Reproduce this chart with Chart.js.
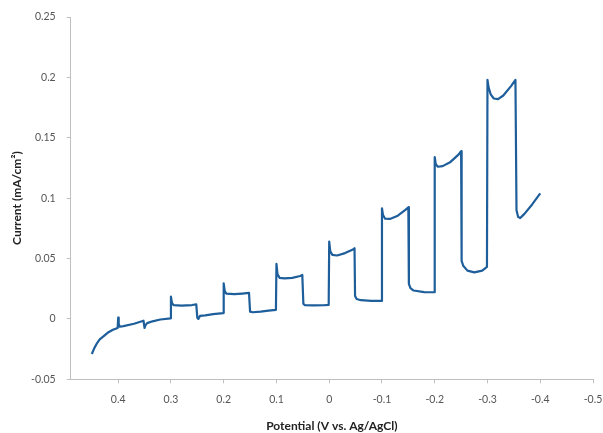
<!DOCTYPE html>
<html>
<head>
<meta charset="utf-8">
<script src="https://cdn.jsdelivr.net/npm/chart.js@4.4.1/dist/chart.umd.min.js"></script>
<style>
  html, body { margin: 0; padding: 0; background: #fff; }
  #wrap { width: 603px; height: 433px; }
</style>
</head>
<body>
<div id="wrap"><canvas id="cvChart" width="603" height="433"></canvas></div>
<script>
// potential (V vs. Ag/AgCl)
let potential = [
  0.450, 0.445, 0.440, 0.435, 0.428, 0.420, 0.410, 0.401,
  0.400, 0.399, 0.397, 0.390, 0.370, 0.352,
  0.350, 0.348, 0.345, 0.335, 0.320, 0.301,
  0.300, 0.298, 0.295, 0.280, 0.260, 0.252,
  0.250, 0.248, 0.245, 0.235, 0.220, 0.201,
  0.200, 0.198, 0.195, 0.180, 0.165, 0.152,
  0.150, 0.145, 0.130, 0.115, 0.101,
  0.100, 0.098, 0.094, 0.085, 0.070, 0.055, 0.051,
  0.049, 0.046, 0.030, 0.010, 0.001,
  0.000, -0.002, -0.006, -0.015, -0.030, -0.045, -0.048,
  -0.049, -0.052, -0.060, -0.080, -0.099,
  -0.100, -0.102, -0.106, -0.115, -0.130, -0.145, -0.150,
  -0.151, -0.154, -0.160, -0.180, -0.199,
  -0.200, -0.202, -0.206, -0.215, -0.230, -0.245, -0.250,
  -0.251, -0.254, -0.262, -0.275, -0.290, -0.299,
  -0.300, -0.302, -0.306, -0.312, -0.320, -0.330, -0.345, -0.353,
  -0.355, -0.358, -0.362, -0.370, -0.385, -0.400
]
// current (mA/cm2)
let current = [
  -0.029, -0.024, -0.020, -0.017, -0.0145, -0.0115, -0.009, -0.0075,
  0.001, -0.004, -0.0065, -0.006, -0.004, -0.0015,
  -0.0075, -0.005, -0.0035, -0.002, -0.0005, 0.0005,
  0.0185, 0.013, 0.0115, 0.011, 0.0115, 0.012,
  0.001, 0.0, 0.0025, 0.003, 0.004, 0.0048,
  0.0295, 0.023, 0.021, 0.0205, 0.021, 0.0215,
  0.006, 0.0055, 0.006, 0.0068, 0.0075,
  0.0455, 0.037, 0.034, 0.0335, 0.034, 0.0355, 0.0364,
  0.0125, 0.0115, 0.0112, 0.0113, 0.0116,
  0.064, 0.056, 0.053, 0.0525, 0.0545, 0.0575, 0.0585,
  0.019, 0.0165, 0.0155, 0.015, 0.0149,
  0.0916, 0.086, 0.083, 0.0828, 0.0855, 0.0905, 0.0925,
  0.029, 0.0255, 0.0235, 0.0222, 0.0221,
  0.134, 0.128, 0.126, 0.1265, 0.1300, 0.1360, 0.139,
  0.048, 0.044, 0.040, 0.0385, 0.040, 0.043,
  0.198, 0.192, 0.186, 0.1825, 0.182, 0.185, 0.193, 0.198,
  0.090, 0.0845, 0.0835, 0.087, 0.095, 0.104
]
let xTicks = [0.4, 0.3, 0.2, 0.1, 0, -0.1, -0.2, -0.3, -0.4, -0.5]
let xTickLabels = ['0.4', '0.3', '0.2', '0.1', '0', '-0.1', '-0.2', '-0.3', '-0.4', '-0.5']
let yTicks = [-0.05, 0, 0.05, 0.1, 0.15, 0.2, 0.25]
let yTickLabels = ['-0.05', '0', '0.05', '0.1', '0.15', '0.2', '0.25']

let points = []
for (let i = 0; i < potential.length; i++) {
  points.push({ x: potential[i], y: current[i] })
}

let tickFont = { family: 'Lato', size: 10.5 }
let titleFont = { family: 'Lato', size: 12, weight: 'bold' }
let axisGrey = '#bfbfbf'

let ctx = document.getElementById('cvChart').getContext('2d')
let cvChart = new Chart(ctx, {
  type: 'scatter',
  data: {
    datasets: [{
      label: 'chopped LSV',
      data: points,
      showLine: true,
      borderColor: '#1d5e9b',
      borderWidth: 2.2,
      borderJoinStyle: 'round',
      pointRadius: 0,
      tension: 0,
      fill: false
    }]
  },
  options: {
    responsive: false,
    animation: false,
    layout: { padding: { top: 17, right: 10, left: 0, bottom: 0 } },
    plugins: { legend: { display: false }, tooltip: { enabled: false } },
    scales: {
      x: {
        type: 'linear',
        reverse: true,
        min: -0.5,
        max: 0.49,
        afterBuildTicks: function (scale) {
          scale.ticks = xTicks.map(v => ({ value: v }))
        },
        afterFit: function (scale) {
          scale.height = 53.7
          scale.paddingLeft = 0
          scale.paddingRight = 0
        },
        ticks: {
          font: tickFont,
          color: '#555',
          padding: 10,
          maxRotation: 0,
          autoSkip: false,
          callback: function (v) { return xTickLabels[xTicks.indexOf(v)] }
        },
        grid: { drawOnChartArea: false, tickLength: 4, color: axisGrey },
        border: { color: axisGrey, width: 1 },
        title: {
          display: true,
          text: 'Potential (V vs. Ag/AgCl)',
          font: titleFont,
          color: '#222',
          padding: { top: 0, bottom: 0 }
        }
      },
      y: {
        type: 'linear',
        min: -0.05,
        max: 0.25,
        afterBuildTicks: function (scale) {
          scale.ticks = yTicks.map(v => ({ value: v }))
        },
        afterFit: function (scale) {
          scale.width = 70.7
          scale.paddingTop = 0
          scale.paddingBottom = 0
        },
        ticks: {
          font: tickFont,
          color: '#555',
          padding: 11,
          callback: function (v) { return yTickLabels[yTicks.indexOf(v)] }
        },
        grid: { drawOnChartArea: false, tickLength: 4, color: axisGrey },
        border: { color: axisGrey, width: 1 },
        title: {
          display: true,
          text: 'Current (mA/cm²)',
          font: titleFont,
          color: '#222',
          padding: { top: 10, bottom: 0 }
        }
      }
    }
  }
})
</script>
</body>
</html>
